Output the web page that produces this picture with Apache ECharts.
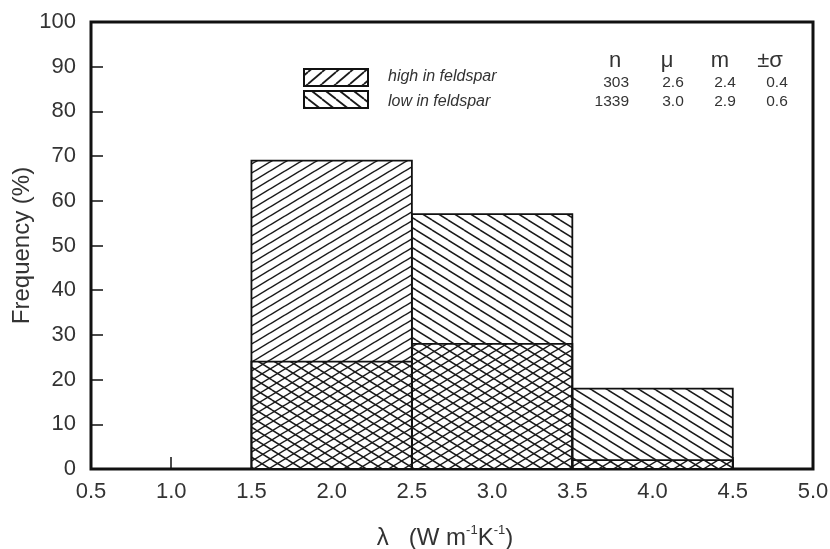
<!DOCTYPE html>
<html>
<head>
<meta charset="utf-8">
<script src="https://cdn.jsdelivr.net/npm/echarts@6/dist/echarts.min.js"></script>
<style>html,body{margin:0;padding:0;background:#fff;}#c{width:830px;height:549px;}</style>
</head>
<body>
<div id="c"></div>
<script>
// ---- data ----
const binStart = [1.5, 2.5, 3.5];
const binEnd   = [2.5, 3.5, 4.5];
const highFeldspar = [69, 28, 2];   // %
const lowFeldspar  = [24, 57, 18];  // %
const xTicks = [0.5, 1.0, 1.5, 2.0, 2.5, 3.0, 3.5, 4.0, 4.5, 5.0];
const yTicks = [0, 10, 20, 30, 40, 50, 60, 70, 80, 90, 100];
const statHeader = ['n', 'μ', 'm', '±σ'];
const statHigh = ['303', '2.6', '2.4', '0.4'];
const statLow  = ['1339', '3.0', '2.9', '0.6'];

// ---- hatch patterns ----
function hatch(w, h, dir, lw, bg) {
  const c = document.createElement('canvas');
  c.width = w; c.height = h;
  const ctx = c.getContext('2d');
  if (bg) { ctx.fillStyle = bg; ctx.fillRect(0, 0, w, h); }
  ctx.strokeStyle = '#1a1a1a';
  ctx.lineWidth = lw;
  for (let k = -1; k <= 1; k++) {
    ctx.beginPath();
    if (dir > 0) { ctx.moveTo(0, h + k * h); ctx.lineTo(w, k * h); }
    else { ctx.moveTo(0, k * h); ctx.lineTo(w, h + k * h); }
    ctx.stroke();
  }
  return { image: c, repeat: 'repeat' };
}
const patHigh = hatch(15, 9, 1, 1.5);
const patLow = hatch(16, 10, -1, 1.5);
const patHighLeg = hatch(14, 12, 1, 1.8);
const patLowLeg = hatch(14, 11, -1, 1.8);

const FONT = '"Liberation Sans", Arial, sans-serif';
const TXT = '#333';

function makeData(vals) {
  return vals.map((v, i) => [binStart[i], binEnd[i], v]);
}
function rectRender(fill, stroke) {
  return function (params, api) {
    const x0 = api.value(0), x1 = api.value(1), y = api.value(2);
    const p0 = api.coord([x0, 0]);
    const p1 = api.coord([x1, y]);
    return {
      type: 'rect',
      shape: { x: p0[0], y: p1[1], width: p1[0] - p0[0], height: p0[1] - p1[1] },
      style: { fill: fill, stroke: stroke ? '#111' : null, lineWidth: stroke ? 1.8 : 0 }
    };
  };
}

const chart = echarts.init(document.getElementById('c'));

const graphics = [
  { type: 'rect', shape: { x: 304, y: 69, width: 64, height: 17 }, style: { fill: patHighLeg, stroke: '#111', lineWidth: 2 } },
  { type: 'rect', shape: { x: 304, y: 91, width: 64, height: 17 }, style: { fill: patLowLeg, stroke: '#111', lineWidth: 2 } },
  { type: 'text', x: 388, y: 77, style: { text: 'high in feldspar', fill: TXT, font: 'italic 16px ' + FONT, textVerticalAlign: 'middle' } },
  { type: 'text', x: 388, y: 102, style: { text: 'low in feldspar', fill: TXT, font: 'italic 16px ' + FONT, textVerticalAlign: 'middle' } }
];
const hdrX = [615, 667, 720, 770];
const colX = [629, 673, 725, 777];
statHeader.forEach((t, i) => graphics.push({ type: 'text', x: hdrX[i], y: 61, style: { text: t, fill: TXT, font: '22px ' + FONT, textAlign: 'center', textVerticalAlign: 'middle' } }));
[statHigh, statLow].forEach((row, r) => row.forEach((t, i) => graphics.push({
  type: 'text', x: colX[i], y: r === 0 ? 83 : 102,
  style: { text: t, fill: TXT, font: '15.5px ' + FONT, textAlign: i === 0 ? 'right' : 'center', textVerticalAlign: 'middle' }
})));

chart.setOption({
  animation: false,
  backgroundColor: '#fff',
  grid: {
    left: 91, right: 17, top: 22, bottom: 80, containLabel: false, outerBoundsMode: 'none',
    show: true, borderColor: '#111', borderWidth: 3, backgroundColor: 'transparent'
  },
  xAxis: {
    type: 'value', min: xTicks[0], max: xTicks[xTicks.length - 1], interval: 0.5,
    axisLine: { show: false },
    axisTick: { show: true, inside: true, length: 12, lineStyle: { color: '#111', width: 1.5 } },
    splitLine: { show: false },
    axisLabel: { margin: 12, fontSize: 22, color: TXT, fontFamily: FONT, formatter: v => v.toFixed(1) },
    name: '{a|λ   (W m}{s|-1}{a|K}{s|-1}{a|)}',
    nameLocation: 'middle', nameGap: 55,
    nameTextStyle: {
      padding: [0, 14, 0, 0],
      rich: {
        a: { fontSize: 24, color: TXT, fontFamily: FONT, lineHeight: 28 },
        s: { fontSize: 13, color: TXT, fontFamily: FONT, verticalAlign: 'top', lineHeight: 28 }
      }
    }
  },
  yAxis: {
    type: 'value', min: yTicks[0], max: yTicks[yTicks.length - 1], interval: 10,
    axisLine: { show: false },
    axisTick: { show: true, inside: true, length: 12, lineStyle: { color: '#111', width: 1.5 } },
    splitLine: { show: false },
    axisLabel: { margin: 15, fontSize: 22, color: TXT, fontFamily: FONT },
    name: 'Frequency (%)', nameLocation: 'middle', nameGap: 57, nameMoveOverlap: false,
    nameTextStyle: { fontSize: 24, color: TXT, fontFamily: FONT }
  },
  graphic: graphics,
  series: [
    {
      type: 'custom', name: 'bg', silent: true,
      encode: { x: [0, 1], y: 2 },
      data: makeData(highFeldspar.map((v, i) => Math.max(v, lowFeldspar[i]))),
      renderItem: rectRender('#fff', false)
    },
    {
      type: 'custom', name: 'high in feldspar',
      encode: { x: [0, 1], y: 2 },
      data: makeData(highFeldspar),
      renderItem: rectRender(patHigh, true)
    },
    {
      type: 'custom', name: 'low in feldspar',
      encode: { x: [0, 1], y: 2 },
      data: makeData(lowFeldspar),
      renderItem: rectRender(patLow, true)
    }
  ]
});
</script>
</body>
</html>
